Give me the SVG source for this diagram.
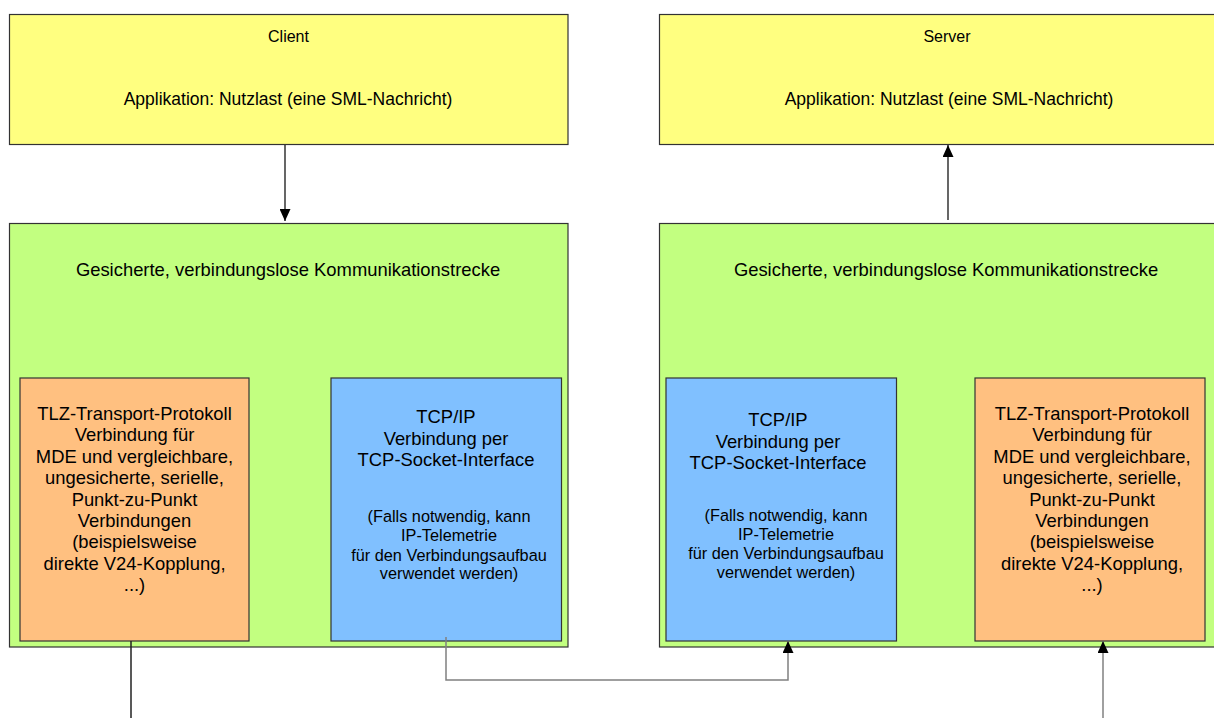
<svg xmlns="http://www.w3.org/2000/svg" width="1214" height="718" viewBox="0 0 1214 718">
<defs>
<marker id="ah" viewBox="0 0 12 11" refX="12" refY="5.5" markerWidth="12" markerHeight="11" markerUnits="userSpaceOnUse" orient="auto">
<path d="M0,0 L12,5.5 L0,11 z" fill="#000"/>
</marker>
</defs>
<style>
text{font-family:"Liberation Sans",Arial,sans-serif;fill:#000;text-anchor:middle}
.box{stroke:#333;stroke-width:1.2}
.yellow{fill:#FFFF80}
.green{fill:#C2FF80}
.orange{fill:#FFC080}
.blue{fill:#80C0FF}
.t16{font-size:16px}
.ta{font-size:17.5px}
.t17{font-size:18.4px}
.tm{font-size:18.4px}
.ts{font-size:16.3px}
.con{fill:none;stroke-width:1.5}
.dark{stroke:#222}
.gray{stroke:#808080}
.blk{stroke:#000;stroke-width:1.2}
</style>
<rect width="1214" height="718" fill="#fff"/>

<g id="client">
<rect class="box yellow" x="9.5" y="14.5" width="558.5" height="130"/>
<text class="t16" x="288.5" y="42">Client</text>
<text class="ta" x="288" y="105">Applikation: Nutzlast (eine SML-Nachricht)</text>
</g>

<g id="server">
<rect class="box yellow" x="659.5" y="14.5" width="578" height="130"/>
<text class="t16" x="947" y="42">Server</text>
<text class="ta" x="949" y="105">Applikation: Nutzlast (eine SML-Nachricht)</text>
</g>

<g id="client-transport">
<rect class="box green" x="9.5" y="223.5" width="558.5" height="423.5"/>
<text class="t17" x="288" y="276">Gesicherte, verbindungslose Kommunikationstrecke</text>
</g>

<g id="server-transport">
<rect class="box green" x="659.5" y="223.5" width="578" height="423.5"/>
<text class="t17" x="946" y="276">Gesicherte, verbindungslose Kommunikationstrecke</text>
</g>

<g id="client-tlz">
<rect class="box orange" x="20" y="378" width="229" height="263"/>
<text class="tm" x="134.5"><tspan x="134.5" y="420">TLZ-Transport-Protokoll</tspan><tspan x="134.5" y="441.4">Verbindung für</tspan><tspan x="134.5" y="462.8">MDE und vergleichbare,</tspan><tspan x="134.5" y="484.2">ungesicherte, serielle,</tspan><tspan x="134.5" y="505.6">Punkt-zu-Punkt</tspan><tspan x="134.5" y="527">Verbindungen</tspan><tspan x="134.5" y="548.4">(beispielsweise</tspan><tspan x="134.5" y="569.8">direkte V24-Kopplung,</tspan><tspan x="134.5" y="591.2">...)</tspan></text>
</g>

<g id="client-tcp">
<rect class="box blue" x="331" y="378" width="230.5" height="263"/>
<text class="tm" x="446"><tspan x="446" y="423">TCP/IP</tspan><tspan x="446" y="444.5">Verbindung per</tspan><tspan x="446" y="466">TCP-Socket-Interface</tspan></text>
<text class="ts" x="449"><tspan x="449" y="522">(Falls notwendig, kann</tspan><tspan x="449" y="541">IP-Telemetrie</tspan><tspan x="449" y="560.5">für den Verbindungsaufbau</tspan><tspan x="449" y="579">verwendet werden)</tspan></text>
</g>

<g id="server-tcp">
<rect class="box blue" x="666" y="378" width="230.5" height="263"/>
<text class="tm" x="778"><tspan x="778" y="426">TCP/IP</tspan><tspan x="778" y="447.5">Verbindung per</tspan><tspan x="778" y="469">TCP-Socket-Interface</tspan></text>
<text class="ts" x="786"><tspan x="786" y="521">(Falls notwendig, kann</tspan><tspan x="786" y="540">IP-Telemetrie</tspan><tspan x="786" y="559">für den Verbindungsaufbau</tspan><tspan x="786" y="578">verwendet werden)</tspan></text>
</g>

<g id="server-tlz">
<rect class="box orange" x="975" y="378" width="230" height="263"/>
<text class="tm" x="1092"><tspan x="1092" y="420">TLZ-Transport-Protokoll</tspan><tspan x="1092" y="441.4">Verbindung für</tspan><tspan x="1092" y="462.8">MDE und vergleichbare,</tspan><tspan x="1092" y="484.2">ungesicherte, serielle,</tspan><tspan x="1092" y="505.6">Punkt-zu-Punkt</tspan><tspan x="1092" y="527">Verbindungen</tspan><tspan x="1092" y="548.4">(beispielsweise</tspan><tspan x="1092" y="569.8">direkte V24-Kopplung,</tspan><tspan x="1092" y="591.2">...)</tspan></text>
</g>

<g id="connectors">
<line class="blk" x1="285" y1="145" x2="285" y2="221" marker-end="url(#ah)"/>
<line class="blk" x1="948" y1="220" x2="948" y2="145" marker-end="url(#ah)"/>
<line class="con dark" x1="131" y1="641" x2="131" y2="718"/>
<polyline class="con gray" points="446,637 446,680 788,680 788,641" marker-end="url(#ah)"/>
<line class="con gray" x1="1103" y1="718" x2="1103" y2="641" marker-end="url(#ah)"/>
</g>
</svg>
